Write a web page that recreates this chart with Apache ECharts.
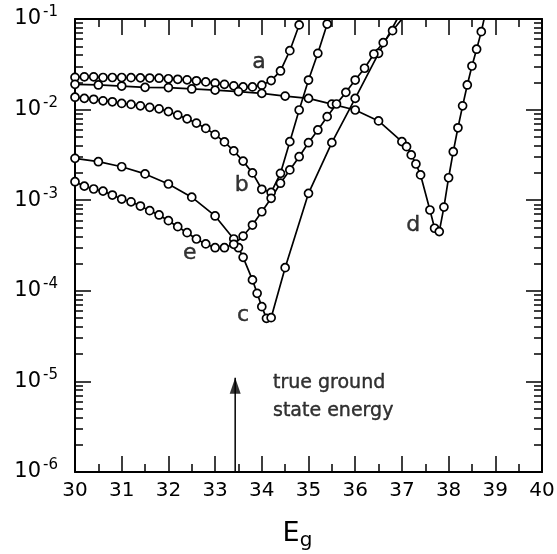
<!DOCTYPE html>
<html>
<head>
<meta charset="utf-8">
<script src="https://cdn.jsdelivr.net/npm/echarts@6/dist/echarts.min.js"></script>
<style>
  html, body { margin: 0; padding: 0; background: #fff; }
  #chart { width: 557px; height: 554px; }
</style>
</head>
<body>
<div id="chart"></div>
<script>
// ---- data (x = E_g, y = log-scale quantity) ----
const curveA = [[30.0,0.0227],[30.2,0.0230],[30.4,0.0230],[30.6,0.0226],[30.8,0.0226],[31.0,0.0226],[31.2,0.0225],[31.4,0.0224],[31.6,0.0223],[31.8,0.0222],[32.0,0.0219],[32.2,0.0216],[32.4,0.0213],[32.6,0.0208],[32.8,0.0202],[33.0,0.0196],[33.2,0.0190],[33.4,0.0183],[33.6,0.0178],[33.8,0.0178],[34.0,0.0186],[34.2,0.0209],[34.4,0.0267],[34.6,0.0447],[34.8,0.086]];
const curveB = [[30.0,0.0137],[30.2,0.0133],[30.4,0.0130],[30.6,0.0125],[30.8,0.0122],[31.0,0.0117],[31.2,0.0114],[31.4,0.0110],[31.6,0.0106],[31.8,0.0102],[32.0,0.0095],[32.2,0.0087],[32.4,0.0079],[32.6,0.0071],[32.8,0.0062],[33.0,0.0053],[33.2,0.0044],[33.4,0.0035],[33.6,0.0027],[33.8,0.0020],[34.0,0.00132],[34.2,0.00122],[34.4,0.00198],[34.6,0.00443],[34.8,0.0099],[35.0,0.0212],[35.2,0.0418],[35.4,0.088]];
const curveC = [[30.0,0.00290],[30.5,0.00266],[31.0,0.00234],[31.5,0.00195],[32.0,0.00151],[32.5,0.00108],[33.0,0.00067],[33.4,0.000373],[33.5,0.000299],[33.6,0.000234],[33.8,0.000132],[33.9,0.0000938],[34.0,0.0000668],[34.1,0.0000497],[34.2,0.0000505],[34.5,0.00018],[35.0,0.00119],[35.5,0.00432],[36.0,0.0133],[36.5,0.0418]];
const curveCEnd = [36.9, 0.1];
const curveD = [[30.0,0.0190],[30.5,0.0187],[31.0,0.0182],[31.5,0.0176],[32.0,0.0175],[32.5,0.0169],[33.0,0.0164],[33.5,0.0158],[34.0,0.0151],[34.5,0.0141],[35.0,0.0133],[35.5,0.0115],[36.0,0.0099],[36.5,0.0075],[37.0,0.00443],[37.1,0.0039],[37.2,0.00316],[37.3,0.00251],[37.4,0.0019],[37.6,0.00078],[37.7,0.00049],[37.8,0.00045],[37.9,0.00084],[38.0,0.00177],[38.1,0.00343],[38.2,0.0063],[38.3,0.011],[38.4,0.0187],[38.5,0.0303],[38.6,0.0464],[38.7,0.0725]];
const curveDEnd = [38.76, 0.1];
const curveE = [[30.0,0.00160],[30.2,0.00143],[30.4,0.00133],[30.6,0.00126],[30.8,0.00114],[31.0,0.00103],[31.2,0.00096],[31.4,0.000862],[31.6,0.000766],[31.8,0.000687],[32.0,0.000594],[32.2,0.000510],[32.4,0.000438],[32.6,0.000373],[32.8,0.000329],[33.0,0.000299],[33.2,0.000299],[33.4,0.000326],[33.6,0.000402],[33.8,0.000532],[34.0,0.000746],[34.2,0.00105],[34.4,0.00154],[34.6,0.00216],[34.8,0.00302],[35.0,0.00431],[35.2,0.00596],[35.4,0.00835],[35.6,0.01153],[35.8,0.0155],[36.0,0.0212],[36.2,0.0286],[36.4,0.0411],[36.6,0.0548],[36.8,0.0743]];
const curveEEnd = [37.0, 0.1];

const curveLabels = [
  { name: 'a', value: [33.94, 0.033] },
  { name: 'b', value: [33.57, 0.00147] },
  { name: 'c', value: [33.60, 0.000054] },
  { name: 'd', value: [37.24, 0.00053] },
  { name: 'e', value: [32.46, 0.00026] }
];
const groundStateE = 33.43;
const arrowFrom = 1e-6, arrowTo = 1.1e-5;
const noteText = 'true ground\nstate energy';
const notePos = [34.24, 6.7e-6];

const xTickValues = [30,31,32,33,34,35,36,37,38,39,40];
const yDecades = [1e-6,1e-5,1e-4,1e-3,1e-2,1e-1];

// minor log ticks 2..9 within each decade
const yMinor = [];
for (let i = 0; i < yDecades.length - 1; i++) {
  for (let m = 2; m <= 9; m++) yMinor.push(yDecades[i] * m);
}

const FONT = 'DejaVu Sans';
const BLACK = '#000';

function curve(name, data, endPt) {
  const d = data.slice();
  if (endPt) d.push({ value: endPt, symbol: 'none' });
  return {
    name, type: 'line', data: d, xAxisIndex: 0, yAxisIndex: 0,
    symbol: 'circle', symbolSize: 8, showSymbol: true,
    lineStyle: { color: BLACK, width: 1.7 },
    itemStyle: { color: '#fff', borderColor: BLACK, borderWidth: 1.7 },
    z: 3, silent: true
  };
}

const chart = echarts.init(document.getElementById('chart'), null, { renderer: 'canvas' });

const baseY = {
  type: 'log', logBase: 10, min: 1e-6, max: 1e-1,
  splitLine: { show: false }, minorSplitLine: { show: false }
};

chart.setOption({
  animation: false,
  backgroundColor: '#fff',
  grid: { left: 75, right: 15, top: 19, bottom: 82, containLabel: false, outerBoundsMode: 'none' },
  xAxis: [
    {
      type: 'value', min: 30, max: 40, interval: 1, position: 'bottom',
      axisLine: { show: true, lineStyle: { color: BLACK, width: 2 } },
      axisTick: { show: true, inside: true, length: 16, lineStyle: { color: BLACK, width: 1.5 } },
      minorTick: { show: true, splitNumber: 2, length: 8, lineStyle: { color: BLACK, width: 1.5 } },
      splitLine: { show: false },
      axisLabel: { show: true, color: BLACK, fontFamily: FONT, fontSize: 20, margin: 9,
        customValues: xTickValues },
      name: '{e|E}{g|g}', nameLocation: 'middle', nameGap: 45,
      nameTextStyle: { padding: [0, 22, 0, 0],
        rich: { e: { fontFamily: FONT, fontSize: 27, color: BLACK },
                g: { fontFamily: FONT, fontSize: 20, color: BLACK, padding: [14, 0, 0, 0] } } }
    },
    {
      type: 'value', min: 30, max: 40, interval: 1, position: 'top',
      axisLine: { show: true, lineStyle: { color: BLACK, width: 2 } },
      axisTick: { show: true, inside: true, length: 16, lineStyle: { color: BLACK, width: 1.5 } },
      minorTick: { show: true, splitNumber: 2, length: 8, lineStyle: { color: BLACK, width: 1.5 } },
      splitLine: { show: false },
      axisLabel: { show: false }
    }
  ],
  yAxis: [
    Object.assign({}, baseY, {
      position: 'left',
      axisLine: { show: true, lineStyle: { color: BLACK, width: 2 } },
      axisTick: { show: true, inside: true, length: 16, lineStyle: { color: BLACK, width: 1.5 } },
      axisLabel: {
        show: true, margin: 17, fontFamily: FONT, color: BLACK,
        formatter: function (v) {
          const p = Math.round(Math.log10(v));
          return '{b|10}{s|-' + (-p) + '}';
        },
        rich: {
          b: { fontFamily: FONT, fontSize: 21, color: BLACK },
          s: { fontFamily: FONT, fontSize: 15, color: BLACK, padding: [0, 0, 13, 2] }
        }
      }
    }),
    Object.assign({}, baseY, {
      position: 'left',
      axisLine: { show: false },
      axisTick: { show: true, inside: true, length: 8, customValues: yMinor, lineStyle: { color: BLACK, width: 1.5 } },
      axisLabel: { show: false }
    }),
    Object.assign({}, baseY, {
      position: 'right',
      axisLine: { show: true, lineStyle: { color: BLACK, width: 2 } },
      axisTick: { show: true, inside: true, length: 16, lineStyle: { color: BLACK, width: 1.5 } },
      axisLabel: { show: false }
    }),
    Object.assign({}, baseY, {
      position: 'right',
      axisLine: { show: false },
      axisTick: { show: true, inside: true, length: 8, customValues: yMinor, lineStyle: { color: BLACK, width: 1.5 } },
      axisLabel: { show: false }
    })
  ],
  series: [
    curve('a', curveA),
    curve('b', curveB),
    curve('c', curveC, curveCEnd),
    curve('d', curveD, curveDEnd),
    curve('e', curveE, curveEEnd),
    {
      name: 'arrow', type: 'line', silent: true, z: 4,
      data: [[groundStateE, arrowFrom], [groundStateE, arrowTo]],
      symbol: 'none', lineStyle: { color: BLACK, width: 1.5 }
    },
    {
      name: 'arrowHead', type: 'scatter', silent: true, z: 4,
      data: [[groundStateE, arrowTo]],
      symbol: 'triangle', symbolSize: [11, 16], symbolOffset: [0, 8],
      itemStyle: { color: BLACK }
    },
    {
      name: 'labels', type: 'scatter', symbolSize: 0, silent: true, z: 5,
      data: curveLabels.concat([{ name: noteText, value: notePos,
        label: { align: 'left', lineHeight: 28, fontSize: 19 } }]),
      label: { show: true, position: 'inside', formatter: '{b}', color: BLACK,
        fontFamily: FONT, fontSize: 22, textBorderColor: BLACK, textBorderWidth: 0.4 }
    }
  ]
});
</script>
</body>
</html>
